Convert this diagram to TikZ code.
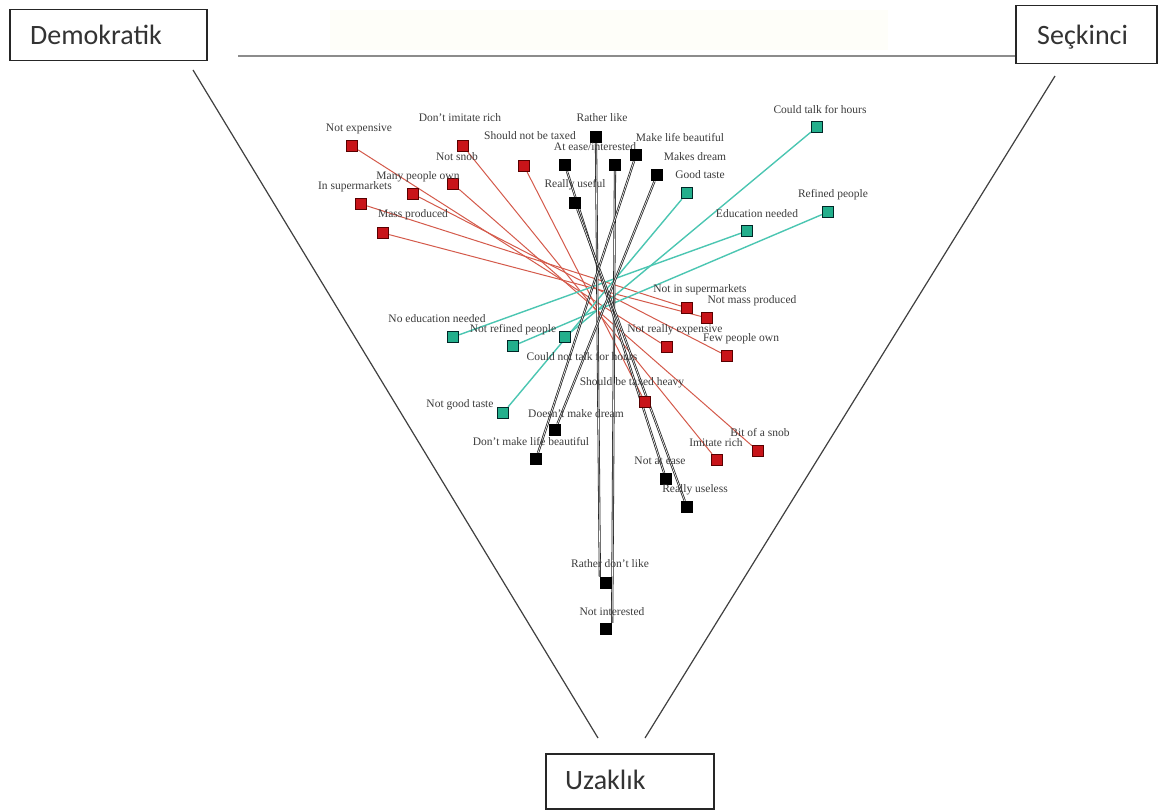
\documentclass[tikz,border=0pt]{standalone}
\usepackage{fontspec}
\setmainfont{Liberation Serif}
\newfontfamily\boxfont{Carlito}
\usetikzlibrary{backgrounds}
\pgfdeclarelayer{paper}
\pgfsetlayers{paper,background,main}
\definecolor{redbox}{RGB}{200,20,25}
\definecolor{redline}{RGB}{212,90,75}
\definecolor{tealbox}{RGB}{35,175,140}
\definecolor{tealline}{RGB}{75,198,178}
\definecolor{lblgray}{RGB}{60,60,60}
\definecolor{band}{RGB}{254,254,249}
\begin{document}
\begin{tikzpicture}[x=1pt,y=-1pt,
  pt/.style={minimum size=11.5pt, inner sep=0pt, draw, line width=0.8pt},
  redpt/.style={pt, fill=redbox, draw=red!35!black},
  tealpt/.style={pt, fill=tealbox, draw=teal!30!black},
  blkpt/.style={pt, fill=black, draw=black},
  lbl/.style={font=\fontsize{11.5}{12}\selectfont, text=lblgray, inner sep=0pt},
  redln/.style={draw=redline, line width=1pt},
  tealln/.style={draw=tealline, line width=1.4pt},
  blkln/.style={draw=black!85, line width=0.8pt, double=white, double distance=0.6pt},
  frame/.style={draw=black!85, line width=1.5pt, inner sep=0pt, anchor=north west},
  axisln/.style={draw=black!75, line width=1.2pt},
  ttl/.style={font=\boxfont\fontsize{28}{30}\selectfont, text=black!80, anchor=base west, inner sep=0pt}
]
\useasboundingbox (0,0) rectangle (1158,810);
\begin{pgfonlayer}{paper}
  \fill[white] (0,0) rectangle (1158,810);
  \fill[band] (330,10) rectangle (888,50);
\end{pgfonlayer}

% ---- corner boxes ----
\node[frame, minimum width=197pt, minimum height=51pt] (demo) at (9,9) {};
\node[ttl] (demot) at (30,45) {Demokratik};
\node[frame, minimum width=141pt, minimum height=58pt] (seck) at (1015,5) {};
\node[ttl] (seckt) at (1037,45) {Seçkinci};
\node[frame, minimum width=168pt, minimum height=55pt] (uzak) at (545,753) {};
\node[ttl] (uzakt) at (565,789) {Uzaklık};

% ---- triangle ----
\coordinate (topl) at (238,56);
\coordinate (dl1) at (193,70);
\coordinate (dl2) at (598,738);
\coordinate (dr1) at (1055,76);
\coordinate (dr2) at (645,738);
\draw[draw=black!45, line width=1.4pt] (topl) -- (seck.west |- topl);
\draw[axisln] (dl1) -- (dl2);
\draw[axisln] (dr1) -- (dr2);

% ---- red points ----
\node[redpt] (nexp) at (352,146) {};
\node[lbl] (nexpl) at (359,129) {Not expensive};
\node[redpt] (dimr) at (463,146) {};
\node[lbl] (dimrl) at (460,118) {Don't imitate rich};
\node[redpt] (sntx) at (524,166) {};
\node[lbl] (sntxl) at (530,136) {Should not be taxed};
\node[redpt] (nsnb) at (453,184) {};
\node[lbl] (nsnbl) at (457,157) {Not snob};
\node[redpt] (many) at (413,194) {};
\node[lbl] (manyl) at (418,177) {Many people own};
\node[redpt] (insm) at (361,204) {};
\node[lbl] (insml) at (355,187) {In supermarkets};
\node[redpt] (mass) at (383,233) {};
\node[lbl] (massl) at (413,215) {Mass produced};
\node[redpt] (nism) at (687,308) {};
\node[lbl] (nisml) at (700,290) {Not in supermarkets};
\node[redpt] (nmas) at (707,318) {};
\node[lbl] (nmasl) at (752,301) {Not mass produced};
\node[redpt] (nrex) at (667,347) {};
\node[lbl] (nrexl) at (675,330) {Not really expensive};
\node[redpt] (few) at (727,356) {};
\node[lbl] (fewl) at (741,339) {Few people own};
\node[redpt] (stxh) at (645,402) {};
\node[lbl] (stxhl) at (632,383) {Should be taxed heavy};
\node[redpt] (bsnb) at (758,451) {};
\node[lbl] (bsnbl) at (760,433) {Bit of a snob};
\node[redpt] (imr) at (717,460) {};
\node[lbl] (imrl) at (716,443) {Imitate rich};

% ---- teal points ----
\node[tealpt] (ctfh) at (817,127) {};
\node[lbl] (ctfhl) at (820,110) {Could talk for hours};
\node[tealpt] (refp) at (828,212) {};
\node[lbl] (refpl) at (833,195) {Refined people};
\node[tealpt] (edun) at (747,231) {};
\node[lbl] (edunl) at (757,214) {Education needed};
\node[tealpt] (gdts) at (687,193) {};
\node[lbl] (gdtsl) at (700,175) {Good taste};
\node[tealpt] (noed) at (453,337) {};
\node[lbl] (noedl) at (437,319) {No education needed};
\node[tealpt] (nref) at (513,346) {};
\node[lbl] (nrefl) at (513,330) {Not refined people};
\node[tealpt] (cntf) at (565,337) {};
\node[lbl] (cntfl) at (582,357) {Could not talk for hours};
\node[tealpt] (ngdt) at (503,413) {};
\node[lbl] (ngdtl) at (460,405) {Not good taste};

% ---- black points ----
\node[blkpt] (rlik) at (596,137) {};
\node[lbl] (rlikl) at (602,118) {Rather like};
\node[blkpt] (atea) at (565,165) {};
\node[blkpt] (intr) at (615,165) {};
\node[lbl] (ateal) at (595,147) {At ease/interested};
\node[blkpt] (mlb) at (636,155) {};
\node[lbl] (mlbl) at (680,138) {Make life beautiful};
\node[blkpt] (mdr) at (657,175) {};
\node[lbl] (mdrl) at (695,157) {Makes dream};
\node[blkpt] (ruse) at (575,203) {};
\node[lbl] (rusel) at (575,185) {Really useful};
\node[blkpt] (dmdr) at (555,430) {};
\node[lbl] (dmdrl) at (576,414) {Doesn't make dream};
\node[blkpt] (dmlb) at (536,459) {};
\node[lbl] (dmlbl) at (531,442) {Don't make life beautiful};
\node[blkpt] (nate) at (666,479) {};
\node[lbl] (natel) at (660,461) {Not at ease};
\node[blkpt] (rusl) at (687,507) {};
\node[lbl] (rusll) at (695,490) {Really useless};
\node[blkpt] (rdlk) at (606,583) {};
\node[lbl] (rdlkl) at (610,564) {Rather don't like};
\node[blkpt] (nint) at (606,629) {};
\node[lbl] (nintl) at (612,612) {Not interested};

% ---- connectors between opposite answers ----
\begin{pgfonlayer}{background}
  \draw[redln] (nexp) -- (nrex);
  \draw[redln] (dimr) -- (imr);
  \draw[redln] (nsnb) -- (bsnb);
  \draw[redln] (sntx) -- (stxh);
  \draw[redln] (many) -- (few);
  \draw[redln] (insm) -- (nism);
  \draw[redln] (mass) -- (nmas);
  \draw[tealln] (ctfh) -- (cntf);
  \draw[tealln] (refp) -- (nref);
  \draw[tealln] (edun) -- (noed);
  \draw[tealln] (gdts) -- (ngdt);
  \draw[blkln] (rlik.south) -- (rdlk.north west);
  \draw[blkln] (intr) -- (nint.north east);
  \draw[blkln] (atea) -- (nate);
  \draw[blkln] (ruse) -- (rusl);
  \draw[blkln] (mlb) -- (dmlb);
  \draw[blkln] (mdr) -- (dmdr);
\end{pgfonlayer}
\end{tikzpicture}
\end{document}
